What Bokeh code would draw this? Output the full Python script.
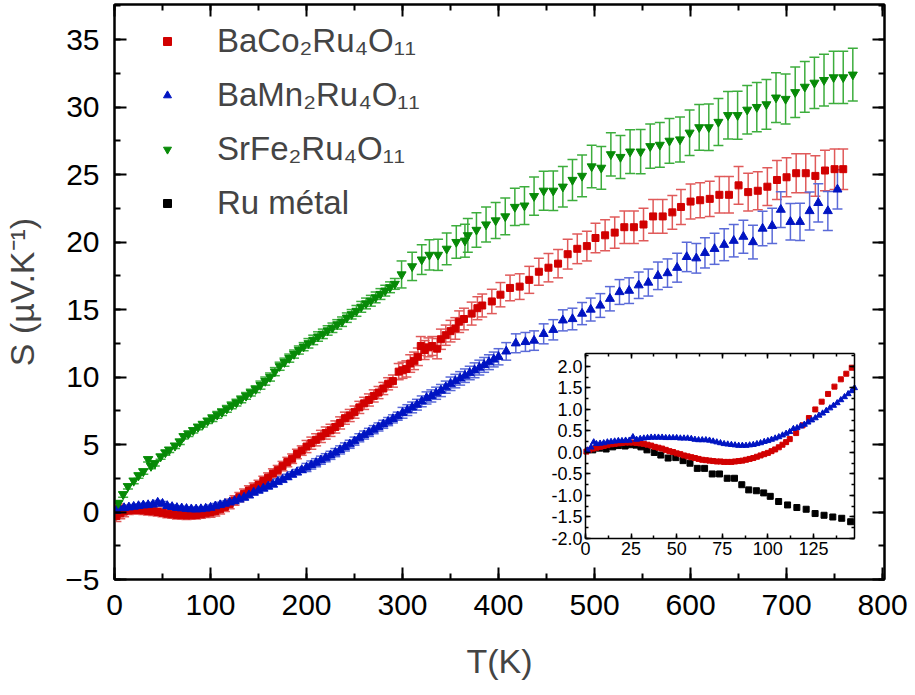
from bokeh.plotting import figure
from bokeh.models import (ColumnDataSource, Whisker, TeeHead, Legend, LegendItem,
                          LinearAxis, PrintfTickFormatter, SingleIntervalTicker, Range1d,
                          CustomLabelingPolicy)
from bokeh.embed import file_html
from bokeh.resources import INLINE

FONT = "Liberation Sans"

# ---------------- data (main panel) ----------------
# BaCo2Ru4O11
co_t = [2, 4, 6, 8, 10, 15, 20, 25, 30, 35, 40, 45, 50, 55, 60, 65, 70, 75, 80, 85, 90, 95,
        100, 105, 110, 115, 120, 125, 130, 135, 140, 145, 150, 155, 160, 165, 170, 175, 180, 185, 190, 195,
        200, 205, 210, 215, 220, 225, 230, 235, 240, 245, 250, 255, 260, 265, 270, 275, 280, 285, 290,
        296, 300, 304, 308, 312, 316, 319, 323, 327, 331, 336, 340, 345, 350, 355, 359, 364, 372, 378, 383, 393,
        402, 412, 422, 432, 442, 452, 462, 472, 482, 492,
        501, 511, 521, 531, 541, 551, 561, 571, 581, 590,
        600, 610, 620, 630, 640, 650, 660, 670, 680, 690,
        700, 710, 720, 730, 740, 750, 759]
co_s = [-0.3, 0.2, -0.1, 0.1, 0.05, 0.12, 0.15, 0.15, 0.12, 0.08, 0.05, 0.0, -0.06, -0.12, -0.17, -0.21, -0.23, -0.25, -0.24, -0.22, -0.17, -0.1,
        -0.03, 0.06, 0.2, 0.38, 0.6, 0.85, 1.1, 1.35, 1.6, 1.8, 2.0, 2.3, 2.55, 2.85, 3.1, 3.4, 3.7, 3.95, 4.3, 4.55,
        4.85, 5.1, 5.35, 5.6, 5.85, 6.05, 6.3, 6.6, 6.95, 7.15, 7.4, 7.75, 8.05, 8.3, 8.6, 8.85, 9.15, 9.5, 9.7,
        10.4, 10.5, 10.6, 11.0, 11.2, 11.5, 12.3, 12.0, 12.2, 12.3, 12.1, 12.8, 13.1, 13.4, 13.6, 14.1, 14.3, 14.7, 15.1, 15.3, 15.6,
        16.1, 16.6, 16.7, 17.2, 17.8, 18.1, 18.4, 19.1, 19.5, 19.7,
        20.3, 20.5, 20.7, 21.1, 21.1, 21.3, 21.9, 21.9, 22.2, 22.6,
        23.0, 23.1, 23.2, 23.5, 23.5, 24.2, 23.7, 23.8, 24.1, 24.6,
        24.8, 25.1, 25.1, 24.9, 25.3, 25.4, 25.4]
co_e = [0.4, 0.4, 0.4, 0.4, 0.4, 0.3, 0.3, 0.3, 0.3, 0.3, 0.3, 0.3, 0.3, 0.3, 0.3, 0.3, 0.3, 0.3, 0.3, 0.3, 0.3, 0.3,
        0.35, 0.35, 0.35, 0.35, 0.35, 0.35, 0.35, 0.35, 0.35, 0.35, 0.35, 0.35, 0.35, 0.35, 0.35, 0.35, 0.35, 0.35, 0.35, 0.35,
        0.45, 0.45, 0.45, 0.45, 0.45, 0.45, 0.45, 0.45, 0.45, 0.45, 0.45, 0.45, 0.45, 0.45, 0.45, 0.45, 0.45, 0.45, 0.45,
        0.6, 0.6, 0.6, 0.65, 0.65, 0.65, 0.7, 0.7, 0.7, 0.7, 0.75, 0.75, 0.75, 0.8, 0.8, 0.8, 0.8, 0.85, 0.85, 0.85, 0.9,
        0.9, 0.95, 0.95, 1.0, 1.0, 1.05, 1.05, 1.1, 1.1, 1.1,
        1.1, 1.15, 1.15, 1.2, 1.2, 1.2, 1.25, 1.25, 1.25, 1.3,
        1.3, 1.3, 1.3, 1.35, 1.35, 1.4, 1.4, 1.4, 1.4, 1.45,
        1.45, 1.45, 1.45, 1.5, 1.5, 1.5, 1.5]

# BaMn2Ru4O11
mn_t = [2, 5, 10, 15, 20, 25, 30, 35, 40, 45, 50, 55, 60, 65, 70, 75, 80, 85, 90, 95,
        100, 105, 110, 115, 120, 125, 130, 135, 140, 145, 150, 155, 160, 165, 170, 175, 180, 185, 190, 195,
        200, 205, 210, 215, 220, 225, 230, 235, 240, 245, 250, 255, 260, 265, 270, 275, 280, 285, 290, 295,
        300, 305, 310, 315, 320, 325, 330, 335, 340, 345, 350, 355, 360, 365, 370, 375, 380, 385, 390, 395, 400,
        408, 418, 428, 437, 447, 457, 467, 477, 487, 496, 506, 516, 526, 536, 546, 556, 566, 576, 586, 596,
        606, 615, 625, 635, 645, 655, 665, 675, 685, 694, 704, 714, 724, 733, 743, 753]
mn_s = [0.1, 0.3, 0.3, 0.35, 0.4, 0.45, 0.5, 0.52, 0.56, 0.7, 0.62, 0.45, 0.38, 0.31, 0.28, 0.24, 0.21, 0.2, 0.22, 0.26,
        0.32, 0.43, 0.52, 0.62, 0.72, 0.82, 0.95, 1.08, 1.25, 1.45, 1.6, 1.75, 1.9, 2.05, 2.25, 2.4, 2.6, 2.78, 2.95, 3.12,
        3.3, 3.48, 3.65, 3.84, 4.02, 4.2, 4.4, 4.6, 4.82, 5.02, 5.25, 5.5, 5.7, 5.9, 6.1, 6.3, 6.5, 6.7, 6.9, 7.1,
        7.35, 7.55, 7.75, 7.95, 8.2, 8.45, 8.6, 8.8, 9.0, 9.25, 9.5, 9.7, 9.9, 10.1, 10.3, 10.5, 10.7, 10.9, 11.1, 11.3, 11.5,
        11.9, 12.5, 12.6, 12.7, 13.2, 13.5, 14.2, 14.3, 14.7, 15.0, 15.3, 15.8, 16.3, 16.4, 16.8, 17.0, 17.5, 17.7, 18.1, 18.9,
        18.8, 19.2, 19.5, 19.8, 20.1, 20.4, 20.0, 21.0, 21.2, 22.4, 21.5, 21.5, 22.3, 22.9, 22.3, 23.9]
mn_e = [0.15, 0.15, 0.15, 0.15, 0.15, 0.15, 0.15, 0.15, 0.15, 0.15, 0.15, 0.15, 0.15, 0.15, 0.15, 0.15, 0.15, 0.15, 0.15, 0.15,
        0.2, 0.2, 0.2, 0.2, 0.2, 0.2, 0.2, 0.2, 0.2, 0.2, 0.2, 0.2, 0.2, 0.2, 0.2, 0.2, 0.2, 0.2, 0.2, 0.2,
        0.3, 0.3, 0.3, 0.3, 0.3, 0.3, 0.3, 0.3, 0.3, 0.3, 0.3, 0.3, 0.3, 0.3, 0.3, 0.3, 0.3, 0.3, 0.3, 0.3,
        0.4, 0.4, 0.4, 0.4, 0.4, 0.45, 0.45, 0.45, 0.45, 0.45, 0.5, 0.5, 0.5, 0.5, 0.5, 0.55, 0.55, 0.55, 0.55, 0.55, 0.6,
        0.65, 0.7, 0.7, 0.72, 0.74, 0.75, 0.78, 0.8, 0.82, 0.85, 0.88, 0.9, 0.92, 0.95, 0.98, 1.0, 1.02, 1.05, 1.07, 1.09,
        1.1, 1.12, 1.15, 1.18, 1.2, 1.22, 1.25, 1.28, 1.3, 1.32, 1.35, 1.38, 1.4, 1.42, 1.44, 1.46]

# SrFe2Ru4O11
fe_t = [4, 9, 14, 20, 25, 30, 35, 38, 42, 48, 53, 57, 63, 68, 72, 77, 82, 87, 92, 97,
        102, 107, 112, 117, 122, 127, 132, 137, 142, 147, 152, 157, 162, 167, 172, 177, 182, 187, 192, 197,
        202, 207, 212, 217, 222, 227, 232, 237, 242, 247, 252, 257, 262, 267, 272, 277, 282, 287, 292,
        299, 310, 320, 328, 337, 346, 356, 365, 368, 377, 387, 397, 407, 417, 427, 437, 447, 457, 467, 477, 487,
        497, 507, 517, 527, 537, 548, 558, 568, 578, 589, 599, 609, 619, 629, 639, 649, 659, 669, 679, 689,
        699, 709, 719, 729, 739, 749, 759, 769]
fe_s = [0.65, 1.3, 1.9, 2.3, 2.7, 3.0, 3.9, 3.4, 3.6, 4.1, 4.4, 4.6, 4.9, 5.2, 5.6, 5.8, 6.05, 6.3, 6.5, 6.75,
        6.95, 7.2, 7.4, 7.65, 7.9, 8.1, 8.35, 8.6, 8.85, 9.1, 9.4, 9.7, 10.0, 10.4, 10.8, 11.1, 11.4, 11.7, 12.0, 12.25,
        12.5, 12.75, 13.0, 13.2, 13.45, 13.65, 13.9, 14.1, 14.4, 14.65, 14.9, 15.2, 15.45, 15.65, 15.9, 16.15, 16.4, 16.65, 16.9,
        17.6, 18.2, 18.7, 19.05, 19.05, 19.5, 20.0, 20.1, 20.5, 20.9, 21.3, 21.6, 21.9, 22.6, 22.7, 23.4, 23.8, 23.8, 24.1, 24.6, 24.9,
        25.6, 25.5, 26.5, 26.3, 26.7, 26.7, 27.1, 27.2, 27.5, 27.6, 28.1, 28.5, 28.5, 28.9, 29.4, 29.4, 29.8, 30.0, 30.2, 30.7,
        30.6, 31.1, 31.5, 31.8, 32.0, 32.2, 32.2, 32.4]
fe_e = [0.2, 0.2, 0.2, 0.2, 0.2, 0.2, 0.2, 0.2, 0.2, 0.2, 0.2, 0.2, 0.2, 0.2, 0.2, 0.2, 0.2, 0.2, 0.2, 0.2,
        0.25, 0.25, 0.25, 0.25, 0.25, 0.25, 0.25, 0.25, 0.25, 0.25, 0.3, 0.3, 0.3, 0.3, 0.3, 0.3, 0.3, 0.3, 0.3, 0.3,
        0.35, 0.35, 0.35, 0.35, 0.35, 0.35, 0.35, 0.35, 0.35, 0.35, 0.4, 0.4, 0.4, 0.4, 0.4, 0.4, 0.4, 0.4, 0.4,
        1.0, 1.05, 1.1, 1.12, 1.15, 1.18, 1.2, 1.22, 1.25, 1.28, 1.3, 1.33, 1.36, 1.38, 1.4, 1.42, 1.45, 1.47, 1.5, 1.52, 1.55,
        1.57, 1.58, 1.6, 1.6, 1.62, 1.63, 1.64, 1.65, 1.66, 1.67, 1.68, 1.7, 1.72, 1.74, 1.76, 1.78, 1.8, 1.82, 1.84, 1.85,
        1.86, 1.87, 1.88, 1.9, 1.92, 1.93, 1.94, 1.95]

# ---------------- data (inset, 0-150 K) ----------------
ico_t = [0.5, 2, 4, 6, 8, 10, 12, 14, 16, 18, 20, 22, 24, 26, 28, 30, 32, 34, 36, 38, 40, 42, 44, 46, 48,
         50, 52, 54, 56, 58, 60, 62, 64, 66, 68, 70, 72, 74, 76, 78, 80, 82, 84, 86, 88, 90, 92, 94, 96, 98,
         100, 102, 104, 106, 108, 110, 112, 115.5, 119, 122.5, 126, 129.5, 133, 136.5, 140, 143, 146]
ico_s = [0.02, 0.06, 0.09, 0.11, 0.13, 0.15, 0.17, 0.19, 0.2, 0.21, 0.22, 0.23, 0.23, 0.23, 0.22, 0.21, 0.2, 0.18, 0.16, 0.13,
         0.11, 0.09, 0.06, 0.03, 0.01, -0.02, -0.04, -0.07, -0.09, -0.11, -0.13, -0.15, -0.17, -0.18, -0.19, -0.2, -0.21, -0.21,
         -0.22, -0.22, -0.22, -0.21, -0.2, -0.19, -0.17, -0.15, -0.13, -0.1, -0.07, -0.04, -0.01, 0.03, 0.07, 0.12, 0.18, 0.24,
         0.31, 0.45, 0.63, 0.8, 1.0, 1.18, 1.36, 1.53, 1.7, 1.83, 1.97]

imn_t = [1, 3, 4.5, 6, 8, 10, 12, 14, 16, 18, 20, 22, 24, 26, 28, 30, 32, 34, 36, 38, 40, 42, 44, 46, 48,
         50, 52, 54, 56, 58, 60, 62, 64, 66, 68, 70, 72, 74, 76, 78, 80, 82, 84, 86, 88, 90, 92, 94, 96, 98,
         100, 102, 104, 106, 108, 110, 112, 114, 116, 118, 120, 122, 124, 126, 128, 130, 132, 134, 136, 138,
         140, 142, 144, 146, 147.5]
imn_s = [0.05, 0.12, 0.24, 0.2, 0.21, 0.22, 0.24, 0.25, 0.26, 0.27, 0.27, 0.28, 0.28, 0.36, 0.3, 0.32, 0.33, 0.34, 0.35, 0.35,
         0.35, 0.35, 0.34, 0.34, 0.34, 0.34, 0.33, 0.33, 0.33, 0.32, 0.3, 0.29, 0.29, 0.29, 0.28, 0.26, 0.24, 0.22, 0.2, 0.19,
         0.18, 0.17, 0.16, 0.16, 0.16, 0.17, 0.18, 0.2, 0.22, 0.25, 0.27, 0.3, 0.33, 0.36, 0.4, 0.44, 0.48, 0.55, 0.57, 0.61,
         0.65, 0.7, 0.75, 0.8, 0.86, 0.91, 0.97, 1.03, 1.09, 1.15, 1.22, 1.29, 1.36, 1.43, 1.5]

ru_t = [4, 7.6, 11.3, 14.9, 18.0, 21.7, 24.9, 27.7, 30.4, 33.7, 37.7, 41.3, 45.3, 49.5, 53.5, 57.3, 61.3, 65.3, 69.5,
        73.5, 77.7, 81.7, 85.7, 89.5, 93.7, 97.7, 101.3, 105.9, 110.8, 115.9, 121.0, 125.9, 130.8, 135.6, 140.5, 145.4]
ru_s = [0.06, 0.1, 0.08, 0.13, 0.16, 0.15, 0.18, 0.17, 0.13, 0.06, 0.0, -0.06, -0.13, -0.12, -0.19, -0.25, -0.37, -0.37, -0.5,
        -0.5, -0.6, -0.6, -0.75, -0.87, -0.89, -0.94, -1.02, -1.14, -1.22, -1.28, -1.32, -1.42, -1.46, -1.5, -1.53, -1.61]

labels = ["BaCo\u2082Ru\u2084O\u2081\u2081", "BaMn\u2082Ru\u2084O\u2081\u2081",
          "SrFe\u2082Ru\u2084O\u2081\u2081", "Ru m\u00e9tal"]

# axis limits
MAIN_X = (0, 802)
MAIN_Y = (-5, 37.6)
INSET_X = (0, 147.5)
INSET_Y = (-2.0, 2.3)

RED, RED_E = "#d10000", "#e05a5a"
BLUE, BLUE_E = "#0014c2", "#5a6ad8"
GREEN, GREEN_E = "#078a07", "#3cad3c"
BLACK = "#000000"

# ---------------- layout geometry (pixels) ----------------
FW, FH = 770, 575                 # main frame size
IN_L, IN_R = 471, 740             # inset box, px from main frame left
IN_B, IN_T = 41, 226              # inset box, px from main frame bottom


def sub_range(lo, hi, p0, p1, total):
    ppu = (p1 - p0) / (hi - lo)
    return Range1d(lo - p0 / ppu, hi + (total - p1) / ppu)


NO_LABELS = CustomLabelingPolicy(code="return new Set()")


def style_axis(ax, size, standoff, lw, tin, tmin):
    ax.axis_line_width = lw
    ax.major_tick_line_width = lw
    ax.minor_tick_line_width = lw
    ax.major_tick_in = tin
    ax.major_tick_out = 0
    ax.minor_tick_in = tmin
    ax.minor_tick_out = 0
    ax.major_label_text_font = FONT
    ax.major_label_text_font_size = size
    ax.major_label_text_color = "black"
    ax.major_label_standoff = standoff
    ax.axis_label_text_font = FONT
    ax.axis_label_text_font_style = "normal"


# ---------------- main figure ----------------
p = figure(frame_width=FW, frame_height=FH, x_range=Range1d(*MAIN_X), y_range=Range1d(*MAIN_Y),
           output_backend="svg", toolbar_location=None,
           min_border_left=105, min_border_right=30, min_border_top=0, min_border_bottom=100)
p.grid.visible = False
p.outline_line_color = "black"
p.outline_line_width = 2

xt = SingleIntervalTicker(interval=100, num_minor_ticks=2)
yt = SingleIntervalTicker(interval=5, num_minor_ticks=2)
p.xaxis.ticker = xt
p.yaxis.ticker = yt
for ax in p.xaxis + p.yaxis:
    style_axis(ax, "30px", 15, 2, 12, 6)
p.xaxis.axis_label = "T(K)"
p.yaxis.axis_label = "S (\u00b5V.K\u207b\u00b9)"
p.xaxis.axis_label_text_font_size = "34px"
p.yaxis.axis_label_text_font_size = "34px"
p.xaxis.axis_label_standoff = 24
p.yaxis.axis_label_standoff = 21

top = LinearAxis(ticker=xt, major_label_policy=NO_LABELS)
right = LinearAxis(ticker=yt, major_label_policy=NO_LABELS)
for ax in (top, right):
    style_axis(ax, "1px", 0, 2, 12, 6)
p.add_layout(top, "above")
p.add_layout(right, "right")


def series(fig, t, s, e, color, ecolor, marker, size, head):
    src = ColumnDataSource(dict(t=t, s=s,
                                up=[a + b for a, b in zip(s, e)],
                                lo=[a - b for a, b in zip(s, e)]))
    w = Whisker(source=src, base="t", upper="up", lower="lo",
                line_color=ecolor, line_width=1.5,
                upper_head=TeeHead(size=head, line_color=ecolor, line_width=1.5),
                lower_head=TeeHead(size=head, line_color=ecolor, line_width=1.5))
    fig.add_layout(w)
    return fig.scatter("t", "s", source=src, marker=marker, size=size,
                       fill_color=color, line_color=color)


r_co = series(p, co_t, co_s, co_e, RED, RED_E, "square", 7, 10)
r_mn = series(p, mn_t, mn_s, mn_e, BLUE, BLUE_E, "triangle", 9, 10)
r_fe = series(p, fe_t, fe_s, fe_e, GREEN, GREEN_E, "inverted_triangle", 9, 10)
# legend-only renderer for Ru metal (its data are shown in the inset)
r_ru = p.scatter(x=[float("nan")], y=[float("nan")], marker="square", size=7,
                 fill_color=BLACK, line_color=BLACK)

legend = Legend(items=[LegendItem(label=labels[0], renderers=[r_co]),
                       LegendItem(label=labels[1], renderers=[r_mn]),
                       LegendItem(label=labels[2], renderers=[r_fe]),
                       LegendItem(label=labels[3], renderers=[r_ru])],
                location=(33, 347), orientation="vertical",
                label_text_font=FONT, label_text_font_size="33px",
                glyph_width=20, glyph_height=20, label_height=35,
                label_standoff=40, spacing=16, padding=10, margin=0,
                border_line_alpha=0, background_fill_alpha=0)
p.add_layout(legend)

# ---------------- inset (sub-ranges of the same figure) ----------------
p.extra_x_ranges = {"ix": sub_range(INSET_X[0], INSET_X[1], IN_L, IN_R, FW)}
p.extra_y_ranges = {"iy": sub_range(INSET_Y[0], INSET_Y[1], IN_B, IN_T, FH)}

ixt = SingleIntervalTicker(interval=25, num_minor_ticks=2)
iyt = SingleIntervalTicker(interval=0.5, num_minor_ticks=2)

ib = LinearAxis(x_range_name="ix", y_range_name="iy", ticker=ixt,
                fixed_location=INSET_Y[0], bounds=INSET_X)
il = LinearAxis(x_range_name="ix", y_range_name="iy", ticker=iyt,
                fixed_location=INSET_X[0], bounds=INSET_Y,
                formatter=PrintfTickFormatter(format="%.1f"))
it = LinearAxis(x_range_name="ix", y_range_name="iy", ticker=ixt,
                fixed_location=INSET_Y[1], bounds=INSET_X, major_label_policy=NO_LABELS)
ir = LinearAxis(x_range_name="ix", y_range_name="iy", ticker=iyt,
                fixed_location=INSET_X[1], bounds=INSET_Y, major_label_policy=NO_LABELS)
for ax in (ib, il):
    style_axis(ax, "18px", 3, 1.5, 5, 3)
for ax in (it, ir):
    style_axis(ax, "1px", 0, 1.5, 5, 3)
p.add_layout(ib, "below")
p.add_layout(il, "left")
p.add_layout(it, "above")
p.add_layout(ir, "right")

p.scatter(ru_t, ru_s, x_range_name="ix", y_range_name="iy",
          marker="square", size=6, fill_color=BLACK, line_color=BLACK)
p.scatter(ico_t, ico_s, x_range_name="ix", y_range_name="iy",
          marker="square", size=5, fill_color=RED, line_color=RED)
p.scatter(imn_t, imn_s, x_range_name="ix", y_range_name="iy",
          marker="triangle", size=6, fill_color=BLUE, line_color=BLUE)

open("out.html", "w").write(file_html(p, INLINE))
